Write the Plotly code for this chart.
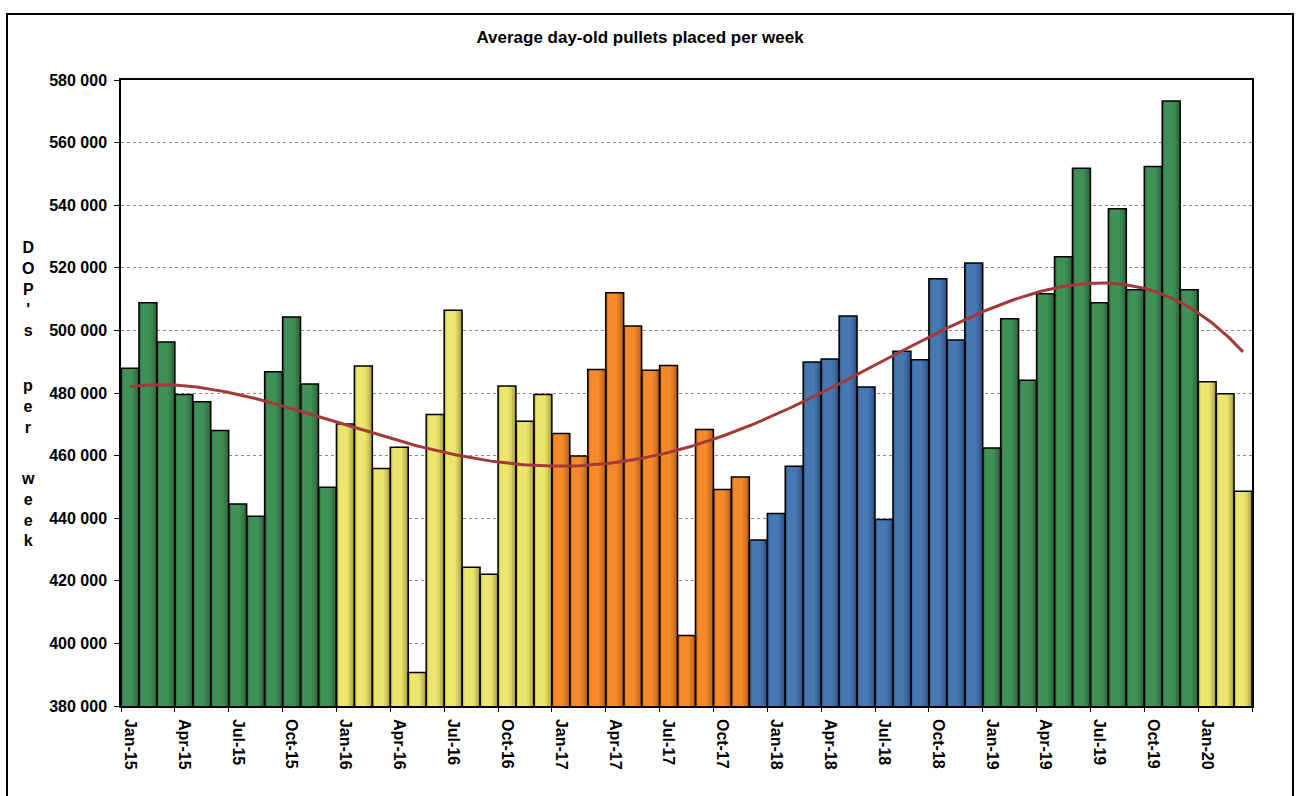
import numpy as np
import plotly.graph_objects as go

# ---- data -------------------------------------------------------------
MONTH_ABBR = ["Jan", "Feb", "Mar", "Apr", "May", "Jun",
              "Jul", "Aug", "Sep", "Oct", "Nov", "Dec"]
months = [f"{m}-{y:02d}" for y in range(15, 21) for m in MONTH_ABBR][:63]

pullets_per_week = [
    487900, 508800, 496300, 479500, 477200, 468000, 444500, 440600, 486800, 504300, 482900, 449900,  # 2015
    470100, 488600, 455900, 462700, 390700, 473100, 506400, 424300, 422100, 482200, 471000, 479500,  # 2016
    467100, 459900, 487500, 512000, 501400, 487300, 488800, 402500, 468300, 449200, 453200, 433000,  # 2017
    441500, 456600, 489900, 490900, 504600, 481900, 439600, 493300, 490600, 516500, 496900, 521500,  # 2018
    462400, 503700, 484100, 511700, 523500, 551800, 508800, 538900, 513000, 552400, 573300, 513000,  # 2019
    483600, 479800, 448600,                                                                          # 2020
]

# colour band for consecutive runs of months
color_runs = [("green", 12), ("yellow", 12), ("orange", 11),
              ("blue", 13), ("green", 12), ("yellow", 3)]

x_tick_labels = months[::3]

# ---- styling ----------------------------------------------------------
PALETTE = {  # (edge shade, highlight)
    "green": ((40, 98, 58), (64, 145, 88)),
    "yellow": ((168, 158, 62), (236, 230, 110)),
    "orange": ((176, 94, 28), (246, 137, 42)),
    "blue": ((44, 80, 128), (70, 120, 180)),
}

bar_group = [name for name, n in color_runs for _ in range(n)]


def blend(c0, c1, t):
    r, g, b = (round(a + (b_ - a) * t) for a, b_ in zip(c0, c1))
    return f"rgb({r},{g},{b})"


# (left offset, right offset, shade) layers giving a cylinder-like fill
shade_layers = [(-0.50, 0.50, 0.0), (-0.45, 0.40, 0.40),
                (-0.41, 0.28, 0.75), (-0.37, 0.14, 1.0)]

FONT = "Liberation Sans, Arial, sans-serif"

fig = go.Figure()

for left, right, t in shade_layers:
    fig.add_trace(go.Bar(
        x=months, y=pullets_per_week,
        offset=left, width=right - left,
        marker=dict(color=[blend(*PALETTE[g], t) for g in bar_group],
                    line=dict(width=0)),
        hoverinfo="skip", showlegend=False,
    ))

# black outline on top of the shaded fills
fig.add_trace(go.Bar(
    x=months, y=pullets_per_week,
    offset=-0.5, width=1.0,
    marker=dict(color="rgba(0,0,0,0)", line=dict(color="black", width=1.5)),
    showlegend=False,
))

# polynomial trend (order 4) through the monthly averages
idx = np.arange(len(pullets_per_week))
coeffs = np.polyfit(idx, pullets_per_week, 4)
trend_x = np.linspace(0, len(idx) - 1, 400)
trend_y = np.polyval(coeffs, trend_x)
fig.add_trace(go.Scatter(
    x=trend_x, y=trend_y, xaxis="x2", yaxis="y",
    mode="lines", line=dict(color="#A3393B", width=3),
    hoverinfo="skip", showlegend=False,
))

W, H = 1302, 796
ML, MR, MT, MB = 121, 50, 80, 90
PW, PH = W - ML - MR, H - MT - MB


def px_x(p):
    return (p - ML) / PW


def px_y(p):
    return (H - MB - p) / PH


n = len(months)
fig.update_layout(
    width=W, height=H,
    margin=dict(l=ML, r=MR, t=MT, b=MB),
    paper_bgcolor="white", plot_bgcolor="white",
    barmode="overlay",
    separators=". ",
    font=dict(family=FONT, color="black"),
    title=dict(text="Average day-old pullets placed per week",
               x=640 / W, xanchor="center", y=1 - 37 / H, yanchor="middle",
               font=dict(size=17, weight="bold", family=FONT)),
    xaxis=dict(
        type="category", range=[-0.5, n - 0.5],
        tickmode="array", tickvals=x_tick_labels, ticktext=x_tick_labels,
        tickangle=90, tickfont=dict(size=16, weight="bold"),
        ticks="outside", ticklen=8, tickcolor="rgba(0,0,0,0)",
        showgrid=False, showline=True, linecolor="black", linewidth=1.5,
        mirror=True, zeroline=False,
    ),
    xaxis2=dict(
        overlaying="x", anchor="y", side="bottom",
        range=[-0.5, n - 0.5],
        tickmode="array", tickvals=[i - 0.5 for i in range(0, n + 1, 3)],
        ticks="outside", ticklen=5, tickcolor="black", tickwidth=1,
        showticklabels=False, showgrid=False, showline=False, zeroline=False,
    ),
    yaxis=dict(
        range=[380000, 580000], tick0=380000, dtick=20000, tickformat=",d",
        tickfont=dict(size=16, weight="bold"),
        ticks="outside", ticklen=5, tickcolor="black",
        ticklabelstandoff=4,
        showgrid=True, gridcolor="#8a8a8a", gridwidth=1, griddash="dot",
        showline=True, linecolor="black", linewidth=1.5, mirror=True,
        zeroline=False,
    ),
)

# vertically stacked axis title, one annotation per word
for word, y_mid in (("DOP's", 289), ("per", 406), ("week", 510)):
    fig.add_annotation(
        text="<br>".join(word), xref="paper", yref="paper",
        x=px_x(28), y=px_y(y_mid), xanchor="center", yanchor="middle",
        showarrow=False, align="center",
        font=dict(size=16, weight="bold", family=FONT),
    )

# outer chart frame
fig.add_shape(type="rect", xref="paper", yref="paper",
              x0=px_x(7), x1=px_x(1293), y0=px_y(810), y1=px_y(14),
              line=dict(color="black", width=2), fillcolor="rgba(0,0,0,0)",
              layer="below")

fig.write_html("out.html")
